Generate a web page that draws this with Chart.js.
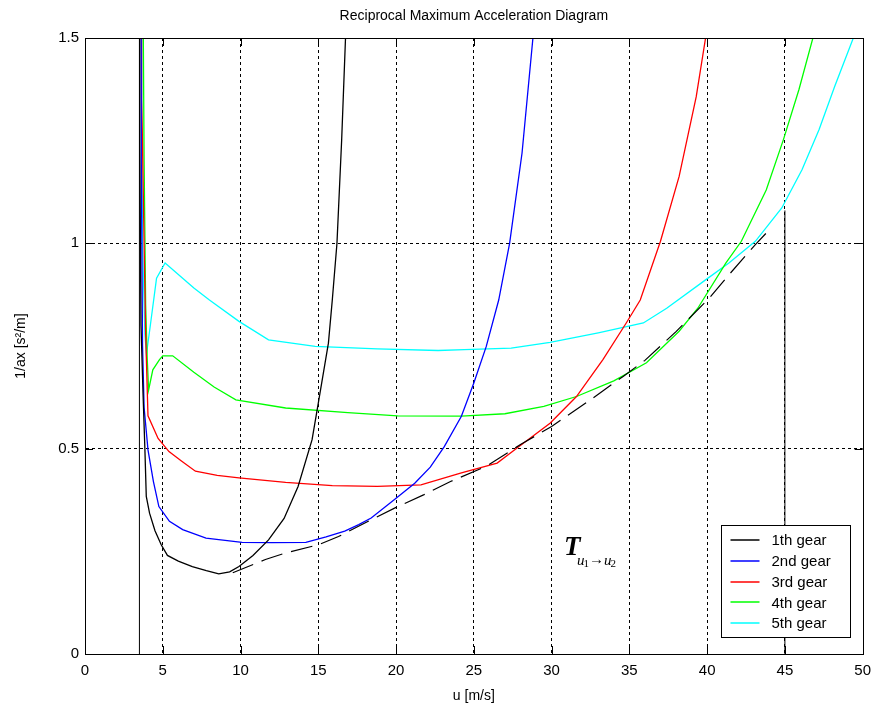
<!DOCTYPE html>
<html>
<head>
<meta charset="utf-8">
<title>Reciprocal Maximum Acceleration Diagram</title>
<script src="https://cdn.jsdelivr.net/npm/chart.js@4"></script>
<style>
  body { margin: 0; background: #fff; }
  #wrap { width: 879px; height: 716px; }
</style>
</head>
<body>
<div id="wrap"><canvas id="myChart" width="879" height="716"></canvas></div>
<script>
// values (u in m/s, 1/ax in s^2/m)
var gear1U = [3.5, 3.52, 3.6, 3.73, 3.85, 3.94, 4.15, 4.5, 4.9, 5.3, 6.0, 6.9, 7.8, 8.6, 9.3, 9.9, 10.8, 11.8, 12.8, 13.7, 14.6, 15.0, 15.65, 15.9, 16.2, 16.5, 16.75];
var gear1A = [3.0, 1.24, 0.8, 0.636, 0.5, 0.384, 0.343, 0.3, 0.266, 0.24, 0.226, 0.213, 0.203, 0.195, 0.2, 0.213, 0.24, 0.278, 0.33, 0.408, 0.522, 0.611, 0.757, 0.862, 1.0, 1.25, 1.5];

var gear2U = [3.58, 3.62, 3.7, 3.8, 4.05, 4.4, 4.75, 5.43, 6.28, 7.78, 10.1, 12.0, 14.2, 15.5, 16.7, 17.6, 18.4, 19.9, 21.2, 22.2, 23.1, 24.2, 25.0, 25.8, 26.6, 27.3, 28.1, 28.8];
var gear2A = [3.0, 1.2, 0.75, 0.6, 0.497, 0.42, 0.359, 0.323, 0.303, 0.282, 0.272, 0.271, 0.272, 0.285, 0.299, 0.315, 0.331, 0.376, 0.416, 0.455, 0.505, 0.579, 0.66, 0.749, 0.862, 1.0, 1.22, 1.5];

var gear3U = [3.62, 3.64, 3.68, 3.8, 3.9, 4.05, 4.7, 5.4, 6.2, 7.1, 8.5, 9.9, 12.9, 15.9, 18.8, 21.6, 24.2, 26.5, 27.8, 29.9, 31.6, 33.3, 34.8, 35.7, 37.0, 38.2, 39.3, 39.9];
var gear3A = [3.0, 1.35, 1.28, 1.0, 0.78, 0.58, 0.525, 0.493, 0.47, 0.445, 0.435, 0.429, 0.418, 0.41, 0.408, 0.412, 0.441, 0.465, 0.502, 0.562, 0.627, 0.717, 0.806, 0.862, 1.005, 1.163, 1.357, 1.5];

var gear4U = [3.72, 3.75, 3.8, 3.9, 4.0, 4.09, 4.36, 4.79, 5.0, 5.64, 7.0, 8.3, 9.7, 12.9, 16.9, 20.1, 24.2, 27.0, 29.5, 31.6, 34.0, 36.1, 38.2, 39.4, 41.2, 42.2, 43.8, 44.9, 45.9, 46.8];
var gear4A = [3.0, 1.5, 1.2, 0.85, 0.72, 0.643, 0.692, 0.717, 0.726, 0.726, 0.686, 0.65, 0.619, 0.599, 0.588, 0.58, 0.579, 0.585, 0.603, 0.627, 0.665, 0.709, 0.786, 0.842, 0.952, 1.005, 1.13, 1.252, 1.374, 1.5];

var gear5U = [3.6, 3.65, 3.7, 3.85, 3.95, 4.2, 4.6, 5.15, 7.0, 8.0, 9.9, 11.8, 14.8, 18.8, 22.7, 24.4, 27.4, 29.9, 33.0, 35.9, 37.4, 39.9, 41.4, 43.1, 44.8, 46.1, 47.2, 48.2, 49.4];
var gear5A = [3.0, 1.3, 1.0, 0.78, 0.73, 0.8, 0.915, 0.952, 0.891, 0.862, 0.81, 0.765, 0.749, 0.743, 0.739, 0.741, 0.745, 0.759, 0.782, 0.806, 0.842, 0.911, 0.952, 1.005, 1.086, 1.179, 1.277, 1.382, 1.5];

// shift points (dashed envelope)
var shiftU = [9.5, 11.6, 12.9, 15.0, 16.3, 18.4, 20.0, 21.8, 23.5, 25.8, 28.0, 30.0, 32.5, 34.6, 36.0, 38.0, 40.15, 41.3, 43.1, 44.0];
var shiftA = [0.198, 0.23, 0.246, 0.266, 0.286, 0.327, 0.357, 0.388, 0.42, 0.457, 0.51, 0.554, 0.619, 0.676, 0.715, 0.785, 0.867, 0.919, 0.997, 1.033];

// speed limits (solid verticals)
var minSpeedU = [3.5, 3.5];
var minSpeedA = [0, 1.5];
var maxSpeedU = [45, 45];
var maxSpeedA = [0, 1.08];

var gearLabels = ['1th gear', '2nd gear', '3rd gear', '4th gear', '5th gear'];
var gearColors = ['#000000', '#0000ff', '#ff0000', '#00ff00', '#00ffff'];

var xTicks = [0, 5, 10, 15, 20, 25, 30, 35, 40, 45, 50];
var yTicks = [0, 0.5, 1, 1.5];

function pts(us, as) {
  return us.map(function (u, i) { return { x: u, y: as[i] }; });
}

var FONT = "'Liberation Sans', Arial, sans-serif";
var SERIF = "'Liberation Serif', 'Times New Roman', serif";

var gearSets = [[gear1U, gear1A], [gear2U, gear2A], [gear3U, gear3A], [gear4U, gear4A], [gear5U, gear5A]];

var datasets = [
  { data: pts(minSpeedU, minSpeedA), borderColor: '#000', borderWidth: 1 },
  { data: pts(maxSpeedU, maxSpeedA), borderColor: '#000', borderWidth: 1 },
  { data: pts(shiftU, shiftA), borderColor: '#000', borderWidth: 1.2, borderDash: [22, 9] }
];
gearSets.forEach(function (g, i) {
  datasets.push({ label: gearLabels[i], data: pts(g[0], g[1]), borderColor: gearColors[i], borderWidth: 1.3 });
});

// box, inward ticks, title, legend, text label
var matlabLook = {
  id: 'matlabLook',
  afterDraw: function (chart) {
    var ctx = chart.ctx, a = chart.chartArea;
    var xs = chart.scales.x, ys = chart.scales.y;
    ctx.save();
    ctx.strokeStyle = '#000';
    ctx.lineWidth = 1;
    ctx.setLineDash([]);
    ctx.strokeRect(Math.round(a.left) + 0.5, Math.round(a.top) + 0.5, Math.round(a.right - a.left), Math.round(a.bottom - a.top));
    var tl = 8;
    ctx.beginPath();
    xTicks.forEach(function (v) {
      var px = Math.round(xs.getPixelForValue(v)) + 0.5;
      ctx.moveTo(px, a.bottom); ctx.lineTo(px, a.bottom - tl);
      ctx.moveTo(px, a.top); ctx.lineTo(px, a.top + tl);
    });
    yTicks.forEach(function (v) {
      var py = Math.round(ys.getPixelForValue(v)) + 0.5;
      ctx.moveTo(a.left, py); ctx.lineTo(a.left + tl, py);
      ctx.moveTo(a.right, py); ctx.lineTo(a.right - tl, py);
    });
    ctx.stroke();

    // title
    ctx.fillStyle = '#000';
    ctx.font = '14px ' + FONT;
    ctx.textAlign = 'center';
    ctx.textBaseline = 'middle';
    ctx.fillText('Reciprocal Maximum Acceleration Diagram', (a.left + a.right) / 2, 16);

    // legend
    var lw = 129, lh = 112;
    var lx = Math.round(a.right - 13 - lw) + 0.5, ly = Math.round(a.bottom - 17 - lh) + 0.5;
    ctx.fillStyle = '#fff';
    ctx.fillRect(lx, ly, lw, lh);
    ctx.strokeStyle = '#000';
    ctx.lineWidth = 1;
    ctx.strokeRect(lx, ly, lw, lh);
    ctx.font = '15px ' + FONT;
    ctx.textAlign = 'left';
    gearLabels.forEach(function (lab, i) {
      var yy = ly + 14.5 + i * 20.8;
      ctx.strokeStyle = gearColors[i];
      ctx.lineWidth = 1.5;
      ctx.beginPath();
      ctx.moveTo(lx + 9, Math.round(yy));
      ctx.lineTo(lx + 38, Math.round(yy));
      ctx.stroke();
      ctx.fillStyle = '#000';
      ctx.fillText(lab, lx + 50, yy + 1);
    });

    // T_{u1->u2}
    var tx = xs.getPixelForValue(30.8), ty = ys.getPixelForValue(0.242);
    ctx.textBaseline = 'alphabetic';
    ctx.fillStyle = '#000';
    ctx.font = 'italic bold 27px ' + SERIF;
    ctx.fillText('T', tx, ty);
    var sx = tx + 13, sy = ty + 10;
    ctx.font = 'italic 15px ' + SERIF;
    ctx.fillText('u', sx, sy); sx += ctx.measureText('u').width - 1;
    ctx.font = '11px ' + SERIF;
    ctx.fillText('1', sx, sy + 2); sx += ctx.measureText('1').width;
    ctx.font = '15px ' + SERIF;
    ctx.fillText('\u2192', sx, sy - 1); sx += ctx.measureText('\u2192').width;
    ctx.font = 'italic 15px ' + SERIF;
    ctx.fillText('u', sx, sy); sx += ctx.measureText('u').width - 1;
    ctx.font = '11px ' + SERIF;
    ctx.fillText('2', sx, sy + 2);
    ctx.restore();
  }
};

var gridColor = function (c) {
  var v = c.tick ? c.tick.value : null;
  return (v === 0 || v === 50 || v === 1.5) ? 'rgba(0,0,0,0)' : '#000';
};

var ctx = document.getElementById('myChart');
var chart = new Chart(ctx, {
  type: 'line',
  data: { datasets: datasets },
  options: {
    responsive: false,
    animation: false,
    layout: { padding: { top: 38, right: 11, left: 0, bottom: 0 } },
    elements: { point: { radius: 0 }, line: { tension: 0 } },
    plugins: {
      legend: { display: false },
      title: { display: false },
      tooltip: { enabled: false }
    },
    scales: {
      x: {
        type: 'linear',
        min: 0, max: 50,
        afterFit: function (s) { s.height = 62; },
        afterBuildTicks: function (s) { s.ticks = xTicks.map(function (v) { return { value: v }; }); },
        ticks: { color: '#000', padding: 8, font: { family: FONT, size: 15 }, maxRotation: 0,
          callback: function (v) { return String(v); } },
        grid: { color: gridColor, lineWidth: 1, drawTicks: false },
        border: { display: true, color: '#000', width: 1, dash: [3, 3] },
        title: { display: true, text: 'u [m/s]', color: '#000', font: { family: FONT, size: 14 }, padding: { top: 0, bottom: 11 } }
      },
      y: {
        min: 0, max: 1.5,
        afterFit: function (s) { s.width = 85; },
        afterBuildTicks: function (s) { s.ticks = yTicks.map(function (v) { return { value: v }; }); },
        ticks: { color: '#000', padding: 6, font: { family: FONT, size: 15 },
          callback: function (v) { return String(v); } },
        grid: { color: gridColor, lineWidth: 1, drawTicks: false },
        border: { display: true, color: '#000', width: 1, dash: [3, 3] },
        title: { display: true, text: '1/ax [s\u00b2/m]', color: '#000', font: { family: FONT, size: 14 }, padding: { top: 13, bottom: 0 } }
      }
    }
  },
  plugins: [matlabLook]
});
</script>
</body>
</html>
